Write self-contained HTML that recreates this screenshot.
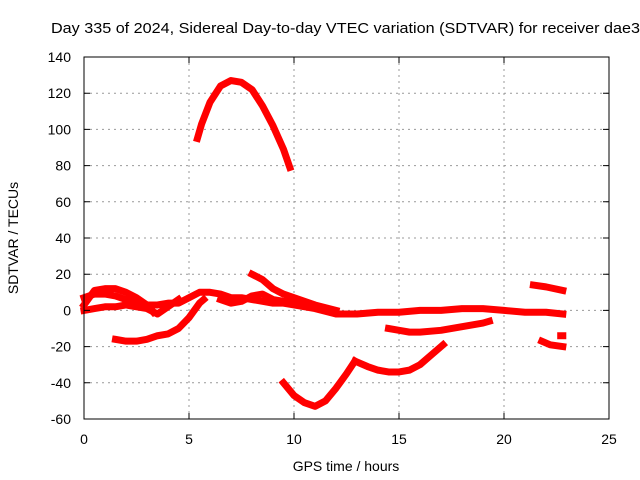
<!DOCTYPE html>
<html><head><meta charset="utf-8"><style>
html,body{margin:0;padding:0;background:#fff}
svg{display:block;font-family:"Liberation Sans",Arial,sans-serif}
</style></head><body>
<svg id="chart" width="640" height="480" viewBox="0 0 640 480" xmlns="http://www.w3.org/2000/svg">
<rect x="0" y="0" width="640" height="480" fill="#fff"/>
<text x="51" y="33" font-size="15" textLength="589" lengthAdjust="spacingAndGlyphs">Day 335 of 2024, Sidereal Day-to-day VTEC variation (SDTVAR) for receiver dae3</text>
<g id="grid"></g>
<g id="series"></g>
<rect x="84" y="57" width="525" height="362" fill="none" stroke="#000" stroke-width="1"/>
<g id="axes"></g>
<text x="346" y="471" font-size="14" text-anchor="middle">GPS time / hours</text>
<text x="18" y="238" font-size="14" text-anchor="middle" transform="rotate(-90 18 238)">SDTVAR / TECUs</text>
</svg>
<script>
const xTicks = [0, 5, 10, 15, 20, 25];
const yTicks = [-60, -40, -20, 0, 20, 40, 60, 80, 100, 120, 140];
const arcX = [5.4, 5.6, 6, 6.5, 7, 7.5, 8, 8.5, 9, 9.5, 9.8];
const arcY = [95, 103, 115, 124, 127, 126, 122, 113, 102, 89, 79];
const troughX = [9.5, 10, 10.5, 11, 11.5, 12, 12.5, 12.9];
const troughY = [-40, -47, -51, -53, -50, -43, -35, -28];
const trough2X = [12.9, 13.5, 14, 14.5, 15, 15.5, 16, 16.5, 17.1];
const trough2Y = [-28, -31, -33, -34, -34, -33, -30, -25, -19];
const riseX = [1.5, 2, 2.5, 3, 3.5, 4, 4.5, 5, 5.5, 5.7];
const riseY = [-16, -17, -17, -16, -14, -13, -10, -4, 4, 6];
const bandX = [0, 0.5, 1, 1.5, 2, 2.5, 3, 3.5, 4, 4.5, 5, 5.5, 6, 6.5, 7, 7.5, 8, 8.5, 9, 9.5, 10, 11, 12, 13, 14, 15, 16, 17, 18, 19, 20, 21, 22, 22.8];
const bandY = [7, 9, 9, 8, 6, 5, 3, 3, 4, 4, 7, 10, 10, 9, 7, 7, 6, 5, 4, 4, 3, 1, -2, -2, -1, -1, 0, 0, 1, 1, 0, -1, -1, -2];
const upperX = [0, 0.5, 1, 1.5, 2, 2.5, 3, 3.3];
const upperY = [3, 11, 12, 12, 10, 7, 3, -1];
const lowerX = [0, 0.5, 1, 1.5, 2, 2.5, 3, 3.5, 4, 4.5];
const lowerY = [0, 1, 2, 2, 3, 2, 1, -2, 2, 6];
const midX = [6.5, 7, 7.5, 8, 8.5, 9, 9.5, 10];
const midY = [6, 4, 5, 8, 9, 6, 5, 5];
const fallX = [8, 8.5, 9, 9.5, 10, 10.5, 11, 12];
const fallY = [20, 17, 12, 9, 7, 5, 3, 0];
const lateX = [14.5, 15, 15.5, 16, 17, 18, 19, 19.3];
const lateY = [-10, -11, -12, -12, -11, -9, -7, -6];
const endHiX = [21.4, 22, 22.8];
const endHiY = [14, 13, 11];
const endLoX = [21.8, 22.2, 22.8];
const endLoY = [-17, -19, -20];
const dotX = [22.7, 22.8];
const dotY = [-14, -14];

const X = v => 84 + v * 21;
const Y = v => 310.4 - v * 1.81;
const NS = 'http://www.w3.org/2000/svg';
const grid = document.getElementById('grid');
const axes = document.getElementById('axes');
const series = document.getElementById('series');
function mk(tag, attrs, parent) {
  const e = document.createElementNS(NS, tag);
  for (const k in attrs) e.setAttribute(k, attrs[k]);
  parent.appendChild(e);
  return e;
}
xTicks.forEach(t => {
  const x = X(t);
  if (t > 0 && t < 25) {
    const g = mk('line', {x1: x, x2: x, y1: 57, y2: 419, stroke: '#999', 'stroke-dasharray': '2,4'}, grid);
    
    
  }
  const tk = mk('path', {d: `M${x},419v-6M${x},57v6`, stroke: '#000'}, axes);
  
  
  const lb = mk('text', {x: x, y: 444, 'font-size': 14, 'text-anchor': 'middle'}, axes);
  lb.textContent = t;
  
  
});
yTicks.forEach(t => {
  const y = Y(t);
  if (t > -60 && t < 140) {
    const g = mk('line', {x1: 84, x2: 609, y1: y, y2: y, stroke: '#999', 'stroke-dasharray': '2,4'}, grid);
    
    
  }
  const tk = mk('path', {d: `M84,${y}h6M609,${y}h-6`, stroke: '#000'}, axes);
  
  
  const lb = mk('text', {x: 71, y: y + 5, 'font-size': 14, 'text-anchor': 'end'}, axes);
  lb.textContent = t;
  
  
});
const segs = [
  ['arc-series', arcX, arcY], ['trough-series', troughX, troughY], ['trough2-series', trough2X, trough2Y],
  ['rise-series', riseX, riseY], ['band-series', bandX, bandY], ['upper-series', upperX, upperY],
  ['lower-series', lowerX, lowerY], ['mid-series', midX, midY], ['fall-series', fallX, fallY],
  ['late-series', lateX, lateY], ['end-high-series', endHiX, endHiY], ['end-low-series', endLoX, endLoY],
  ['dot-series', dotX, dotY]
];
segs.forEach(s => {
  const pts = s[1].map((v, i) => X(v) + ',' + Y(s[2][i])).join(' ');
  const p = mk('polyline', {points: pts, fill: 'none', stroke: '#f00', 'stroke-width': 7, 'stroke-linejoin': 'round', 'stroke-linecap': 'square'}, series);
  
  
});
</script>
</body></html>
